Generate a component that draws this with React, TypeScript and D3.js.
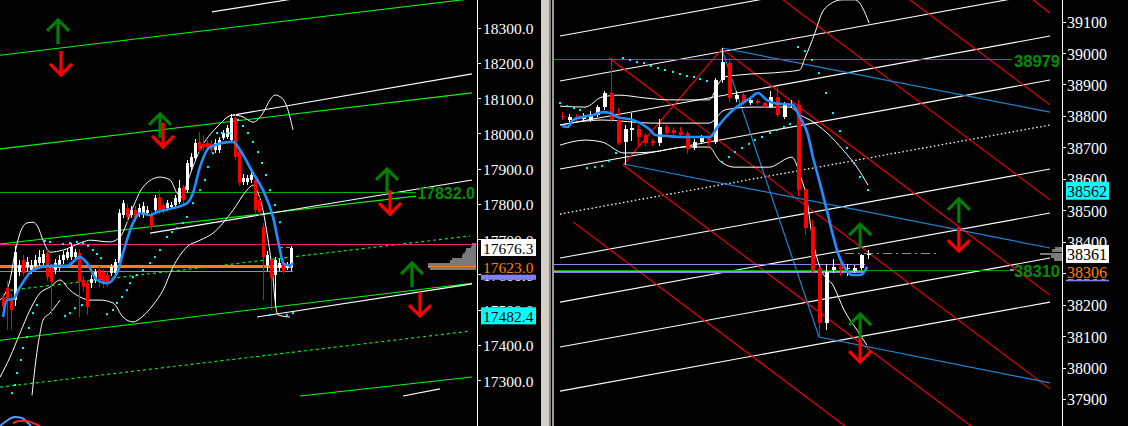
import React from 'react';
import * as d3 from 'd3';

type Pt = [number, number];
type Bar = [number, number, number, number]; // open, high, low, close

// ---------- left chart: candle index, price ----------
const leftCandles: Bar[] = [
  [17535, 17545, 17480, 17507], [17560, 17580, 17442, 17532], [17532, 17545, 17442, 17499],
  [17527, 17680, 17510, 17663], [17606, 17640, 17595, 17626], [17641, 17655, 17595, 17604],
  [17620, 17650, 17610, 17636], [17612, 17640, 17600, 17626], [17624, 17655, 17615, 17641],
  [17633, 17670, 17625, 17650], [17633, 17668, 17625, 17658], [17660, 17668, 17580, 17592],
  [17618, 17630, 17485, 17578], [17612, 17645, 17600, 17632], [17620, 17655, 17610, 17641],
  [17641, 17665, 17630, 17655], [17647, 17675, 17640, 17663], [17650, 17690, 17640, 17678],
  [17650, 17672, 17640, 17663], [17660, 17672, 17480, 17578], [17584, 17595, 17550, 17564],
  [17575, 17585, 17485, 17507], [17575, 17598, 17560, 17587], [17584, 17615, 17575, 17606],
  [17612, 17625, 17565, 17584], [17606, 17615, 17560, 17575], [17598, 17610, 17565, 17575],
  [17604, 17630, 17595, 17620], [17604, 17645, 17595, 17636], [17633, 17785, 17625, 17775],
  [17768, 17812, 17760, 17802], [17788, 17800, 17750, 17762], [17768, 17795, 17760, 17783],
  [17783, 17795, 17750, 17762], [17771, 17800, 17762, 17788], [17768, 17805, 17760, 17794],
  [17775, 17795, 17765, 17783], [17768, 17780, 17725, 17734], [17783, 17825, 17775, 17816],
  [17819, 17840, 17770, 17783], [17797, 17805, 17770, 17783], [17788, 17810, 17780, 17802],
  [17791, 17805, 17785, 17797], [17797, 17825, 17790, 17816], [17805, 17868, 17800, 17845],
  [17847, 17855, 17800, 17811], [17839, 17925, 17830, 17916], [17904, 17945, 17895, 17933],
  [17930, 17985, 17925, 17973], [17976, 18005, 17945, 17953], [17970, 17995, 17950, 17962],
  [17973, 17980, 17950, 17959], [17970, 17980, 17945, 17953], [17953, 17985, 17945, 17973],
  [17953, 17990, 17945, 17981], [17987, 18010, 17980, 18001], [17990, 18025, 17985, 18015],
  [17981, 18055, 17975, 18044], [18044, 18055, 17925, 17933], [17947, 17955, 17850, 17859],
  [17862, 17885, 17855, 17874], [17862, 17882, 17855, 17874], [17868, 17890, 17860, 17882],
  [17868, 17880, 17775, 17783], [17811, 17820, 17765, 17777], [17734, 17745, 17527, 17649],
  [17626, 17665, 17610, 17655], [17641, 17650, 17500, 17590], [17598, 17650, 17510, 17641],
  [17618, 17645, 17610, 17632], [17636, 17645, 17600, 17607], [17618, 17635, 17612, 17626],
  [17620, 17680, 17610, 17676],
];

const leftMa: Pt[] = [
  [0, 17479], [1, 17527], [2.5, 17530], [4.25, 17564], [7.5, 17612], [11.75, 17624], [16, 17624],
  [19.25, 17649], [21, 17632], [23.5, 17584], [26, 17575], [28.5, 17604], [30, 17660], [32.5, 17746],
  [34.25, 17774], [36.75, 17768], [38.5, 17777], [42.5, 17788], [46, 17802], [47.5, 17831],
  [49.25, 17905], [51.75, 17961], [57.5, 17976], [59.25, 17953], [62.5, 17888], [65, 17839],
  [67.5, 17763], [69.25, 17669], [70, 17632], [71.75, 17624], [72.5, 17632],
];

const leftUpperBand: Pt[] = [
  [-0.75, 17527], [1.75, 17584], [3, 17661], [4.25, 17717], [6, 17746], [7.5, 17748], [8.75, 17734],
  [10, 17697], [11.75, 17663], [15, 17669], [20, 17692], [21.75, 17697], [26.75, 17692], [29.25, 17706],
  [32.5, 17791], [35, 17848], [39.25, 17876], [41.75, 17868], [43.5, 17831], [44.75, 17819], [46, 17859],
  [49.25, 17953], [53.5, 18018], [57.5, 18052], [60, 18047], [62.5, 18032], [65, 18058], [66.75, 18095],
  [68, 18109], [69.75, 18100], [71, 18075], [72.5, 18010],
];

const leftLowerBand: Pt[] = [
  [-0.75, 17308], [1.75, 17365], [4.25, 17433], [6.75, 17499], [9.25, 17547], [11.75, 17564],
  [14.25, 17584], [16.75, 17555], [19.25, 17536], [21.75, 17527], [24.25, 17527], [27.5, 17519],
  [30, 17479], [32.5, 17465], [35, 17482], [37.5, 17513], [40, 17555], [42.5, 17621], [46, 17678],
  [49.25, 17697], [52.5, 17717], [57.5, 17782], [61, 17839], [62.5, 17853], [63.75, 17831], [65, 17782],
  [66, 17717], [66.75, 17661], [67.5, 17592], [68, 17527], [68.75, 17485], [71.75, 17479],
];

const leftOuterBand: Pt[] = [
  [7.25, 17257], [8, 17337], [9.25, 17433], [10, 17470], [11.75, 17490], [14.25, 17527],
];

const leftSar: Pt[] = [
  [2.25, 17263], [3, 17286], [3.5, 17320], [4.5, 17357], [5, 17391], [6, 17422], [6.5, 17448],
  [7.5, 17490], [8.5, 17513],
  [10.5, 17695], [11.75, 17692], [15, 17686], [16.75, 17689], [18.5, 17692], [20, 17689],
  [21.25, 17681], [22.5, 17669], [23.5, 17658], [24.5, 17646],
  [15.5, 17482], [16.75, 17490], [18, 17504], [19.75, 17513], [26, 17487], [27.5, 17499],
  [28.5, 17519], [29.75, 17536], [31, 17555], [31.75, 17575], [32.5, 17592], [33.5, 17598],
  [35, 17612], [36.75, 17632], [38, 17649], [39.25, 17669], [41, 17706], [42.25, 17720],
  [43.5, 17731], [45, 17746], [46, 17763], [47.5, 17802], [49.25, 17839], [50.5, 17868],
  [51.25, 17905], [52.5, 17944], [53.5, 18001], [54.75, 18001], [56, 18001], [56.75, 18001],
  [58.75, 18038], [60, 18021], [61.25, 18001], [62.5, 17976], [63.75, 17947], [64.75, 17916],
  [65.75, 17882], [66.75, 17839], [68, 17797], [69.25, 17748],
  [66.75, 17485], [71, 17485], [72.5, 17490],
];

const leftGreenLines: Pt[][] = [
  [[-0.75, 18222], [118.5, 18384]],
  [[-0.75, 17956], [117.25, 18115]],
  [[-0.75, 17686], [103.25, 17822]],
  [[-0.75, 17413], [117.25, 17575]],
  [[74.25, 17255], [117.25, 17309]],
];
const leftGreenDashed: Pt[][] = [
  [[1.75, 17555], [116.75, 17709]],
  [[-0.75, 17280], [116.75, 17439]],
];
const leftWhiteLines: Pt[][] = [
  [[52.25, 18345], [80, 18395]],
  [[57.5, 18052], [117.25, 18169]],
  [[36.75, 17717], [117.25, 17868]],
  [[63.5, 17479], [117.25, 17573]],
  [[100, 17255], [109.25, 17275]],
];

const leftTicks = [18300, 18200, 18100, 18000, 17900, 17800, 17700, 17600, 17500, 17400, 17300];
const leftSignal = 17832;
const leftPink = 17686;
const leftOrange = 17623;
const leftLavender = 17609;
const leftBid = 17676.3;
const leftSarLast = 17482.4;
const leftArrows: [number, number, string][] = [
  [13.75, 18325, 'up'], [14.5, 18163, 'down'], [39.25, 18058, 'up'], [40, 17959, 'down'],
  [96, 17902, 'up'], [96.75, 17768, 'down'], [102.25, 17635, 'up'], [104.25, 17479, 'down'],
];
const leftProfile: Pt[] = [
  [17685, 8], [17678, 10], [17671, 20], [17664, 22], [17657, 28], [17650, 30],
  [17643, 50], [17636, 55], [17629, 100], [17622, 100], [17615, 95],
];
const oscBlue: Pt[] = [[-0.75, 0], [0.5, 25], [3, 56], [4.75, 50], [6, 25], [7, 0]];
const oscRed: Pt[] = [[2.5, 19], [4.25, 31], [6, 31], [7.5, 19], [9.25, 0]];

// ---------- right chart: candle index, price ----------
const rightCandles: Bar[] = [
  [38800, 38812, 38787, 38797], [38787, 38805, 38780, 38797], [38797, 38805, 38785, 38790],
  [38790, 38810, 38785, 38800], [38787, 38815, 38780, 38806], [38803, 38835, 38798, 38828],
  [38828, 38880, 38820, 38873], [38873, 38984, 38780, 38787], [38787, 38825, 38707, 38714],
  [38717, 38770, 38644, 38758], [38755, 38810, 38720, 38760], [38758, 38770, 38705, 38733],
  [38739, 38745, 38705, 38714], [38720, 38725, 38705, 38714], [38714, 38790, 38705, 38765],
  [38765, 38772, 38740, 38746], [38755, 38765, 38738, 38746], [38749, 38765, 38732, 38740],
  [38746, 38752, 38680, 38695], [38697, 38725, 38690, 38717], [38717, 38740, 38710, 38733],
  [38730, 38740, 38700, 38717], [38717, 38920, 38710, 38914], [38914, 39016, 38905, 38971],
  [38968, 38985, 38845, 38857], [38853, 38880, 38845, 38866], [38866, 38875, 38835, 38841],
  [38841, 38860, 38835, 38850], [38847, 38855, 38835, 38841], [38841, 38845, 38825, 38831],
  [38828, 38880, 38825, 38860], [38860, 38892, 38795, 38803], [38797, 38845, 38790, 38835],
  [38835, 38850, 38825, 38838], [38835, 38850, 38545, 38565], [38568, 38570, 38420, 38444],
  [38447, 38470, 38300, 38310], [38316, 38320, 38097, 38141], [38141, 38330, 38120, 38304],
  [38310, 38345, 38300, 38320], [38320, 38335, 38290, 38313], [38313, 38330, 38290, 38316],
  [38306, 38325, 38300, 38316], [38316, 38362, 38310, 38357], [38357, 38375, 38345, 38361],
];

const rightMa: Pt[] = [
  [0, 38768], [0.86, 38765], [1.58, 38787], [3.02, 38797], [4.46, 38803], [5.9, 38812], [6.9, 38809],
  [7.9, 38797], [10.2, 38787], [11.7, 38771], [12.7, 38755], [13.4, 38739], [15.1, 38736], [17.4, 38733],
  [20.3, 38733], [21.3, 38733], [22.3, 38762], [23.2, 38787], [24.6, 38819], [26, 38841], [27.1, 38857],
  [28.2, 38873], [29.5, 38850], [30.4, 38841], [31.8, 38838], [33.2, 38835], [34.2, 38797],
  [35.3, 38746], [36.1, 38670], [37.1, 38587], [38.1, 38501], [38.9, 38428], [39.9, 38352],
  [40.9, 38310], [41.7, 38294], [43, 38294], [43.9, 38320],
];

const rightUpperBand: Pt[] = [
  [-0.29, 38831], [3.31, 38828], [5.76, 38860], [8.2, 38866], [11.94, 38857], [15.4, 38851],
  [21.15, 38851], [22.6, 38905], [23.45, 38924], [25.47, 38930], [32.1, 38940], [34.2, 38946],
  [34.96, 38984], [36.4, 39064], [37.4, 39127], [38.4, 39153], [40.3, 39169], [42.2, 39169], [44.2, 39095],
];
const rightMidBand: Pt[] = [
  [-0.29, 38771], [5.76, 38787], [12.95, 38777], [21.15, 38777], [23.45, 38819], [27.34, 38828],
  [32.81, 38828], [34.24, 38803], [35.68, 38787], [38.13, 38746], [40.43, 38692], [42.45, 38637],
  [44.03, 38580],
];
const rightLowerBand: Pt[] = [
  [-0.29, 38707], [3.31, 38723], [5.76, 38717], [8.92, 38682], [12.95, 38685], [17.7, 38701],
  [21.15, 38701], [22.59, 38660], [24.89, 38637], [29.78, 38637], [33.09, 38669], [34.24, 38612],
  [35.25, 38533], [35.97, 38421], [37.12, 38319], [39.14, 38256], [40.58, 38183], [42.45, 38119],
  [43.88, 38071],
];

const rightSar: Pt[] = [
  [-0.29, 38841], [0.72, 38831], [1.73, 38825], [2.59, 38819],
  [3.6, 38634], [4.75, 38637], [5.76, 38641], [6.76, 38657], [7.77, 38682],
  [8.78, 38984], [9.78, 38978], [10.79, 38971], [11.8, 38968], [12.81, 38959], [13.81, 38952],
  [14.82, 38946], [15.97, 38940], [16.98, 38933], [17.99, 38927], [18.99, 38924], [19.86, 38917],
  [20.86, 38911],
  [23.02, 38653], [24.03, 38669], [24.89, 38685], [25.9, 38698], [26.91, 38711], [27.77, 38723],
  [28.78, 38733], [29.93, 38746], [30.94, 38755], [31.94, 38765], [32.81, 38774],
  [33.96, 39019], [34.96, 39006], [35.97, 38978], [36.98, 38936], [37.99, 38873], [38.99, 38809],
  [40, 38752], [41.01, 38698], [42.01, 38650], [42.88, 38606], [44.03, 38564],
];

// parallel channel: start level at first index, same rise to the last index
const rightChannelLevels = [39054, 38911, 38771, 38631, 38488, 38348, 38208, 38065, 37925];
const rightChannelDotted = 38488;
const rightChannelSpan: Pt = [-0.29, 70.22];
const rightChannelRise = 283;

const rightRedLines: Pt[][] = [
  [[1.58, 38463], [40.7, 37814]],
  [[8.78, 38644], [58.85, 37814]],
  [[6.76, 38984], [70.22, 37932]],
  [[23.0, 39013], [70.22, 38230]],
  [[31.8, 39169], [70.22, 38533]],
  [[50.07, 39169], [70.22, 38835]],
  [[67.77, 39169], [70.22, 39127]],
  [[8.78, 38644], [23.0, 39013]],
];
const rightBlueLines: Pt[][] = [
  [[23.0, 39016], [70.22, 38812]],
  [[8.92, 38647], [70.22, 38380]],
  [[23.0, 39013], [36.98, 38097], [70.22, 37951]],
];

const rightTicks = [39100, 39000, 38900, 38800, 38700, 38600, 38500, 38400, 38300, 38200, 38100, 38000, 37900];
const rightSignalHigh = 38979;
const rightSignalLow = 38310;
const rightLavender: number[] = [38328, 38303];
const rightOrange = 38306;
const rightBid = 38361;
const rightSarLast = 38562;
const rightArrows: [number, number, string][] = [
  [42.9, 38459, 'up'], [42.9, 38173, 'up'], [42.9, 38014, 'down'], [57.1, 38539, 'up'], [57.1, 38367, 'down'],
];
const rightProfile: Pt[] = [[38380, 30], [38371, 45], [38361, 100], [38352, 50], [38343, 35]];

const AXIS_FONT = '"Liberation Serif", "Times New Roman", serif';
const LABEL_FONT = '"Liberation Sans", Arial, sans-serif';

function Candles({ data, x, y, w }) {
  return (
    <g>
      {data.map(([o, h, l, c], i) => {
        const col = c >= o ? '#ffffff' : '#ff0000';
        const top = y(Math.max(o, c));
        const bot = y(Math.min(o, c));
        const cx = Math.round(x(i)) + 0.5;
        return (
          <g key={i}>
            <line x1={cx} x2={cx} y1={y(h)} y2={y(l)} stroke={col} strokeWidth={1} shapeRendering="crispEdges" />
            <rect x={cx - w / 2} y={top} width={w} height={Math.max(1, bot - top)} fill={col} shapeRendering="crispEdges" />
          </g>
        );
      })}
    </g>
  );
}

function Arrow({ x, y, dir }) {
  const col = dir === 'up' ? '#008000' : '#ff0000';
  const s = dir === 'up' ? 1 : -1;
  const d = `M${x},${y + s} L${x},${y + 25 * s} M${x - 11},${y + 12 * s} L${x},${y + s} L${x + 11},${y + 12 * s}`;
  return <path d={d} stroke={col} strokeWidth={3.2} fill="none" />;
}

export default function App() {
  const xL = d3.scaleLinear().domain([0, 118.5]).range([3, 477]);
  const yL = d3.scaleLinear().domain([17300, 18300]).range([380.1, 27.7]);
  const xR = d3.scaleLinear().domain([0, 70.22]).range([562, 1050]);
  const yR = d3.scaleLinear().domain([37900, 39000]).range([398.95, 53]);
  const yOsc = d3.scaleLinear().domain([0, 100]).range([426, 410]);
  const volL = d3.scaleLinear().domain([0, 100]).range([0, 48]);
  const volR = d3.scaleLinear().domain([0, 100]).range([0, 22]);

  const lineL = d3.line<Pt>().x(d => xL(d[0])).y(d => yL(d[1]));
  const lineR = d3.line<Pt>().x(d => xR(d[0])).y(d => yR(d[1]));
  const curveL = d3.line<Pt>().x(d => xL(d[0])).y(d => yL(d[1])).curve(d3.curveMonotoneX);
  const curveR = d3.line<Pt>().x(d => xR(d[0])).y(d => yR(d[1])).curve(d3.curveMonotoneX);
  const oscLine = d3.line<Pt>().x(d => xL(d[0])).y(d => yOsc(d[1])).curve(d3.curveMonotoneX);

  const lx0 = xL(-0.75);
  const rx0 = xR(-1.29);

  return (
    <svg width={1128} height={426} style={{ position: 'absolute', left: 0, top: 0, display: 'block' }}>
      <defs>
        <clipPath id="clipL"><rect x={0} y={0} width={477} height={426} /></clipPath>
        <clipPath id="clipR"><rect x={554} y={0} width={508} height={426} /></clipPath>
      </defs>
      <rect x={0} y={0} width={1128} height={426} fill="#000" />

      {/* ---------------- left panel ---------------- */}
      <g clipPath="url(#clipL)">
        {leftGreenLines.map((l, i) => (
          <path key={'lg' + i} d={lineL(l)} stroke="#00ff00" strokeWidth={1.1} fill="none" />
        ))}
        {leftGreenDashed.map((l, i) => (
          <path key={'ld' + i} d={lineL(l)} stroke="#00ff00" strokeWidth={1.1} strokeDasharray="3,3" fill="none" />
        ))}
        {leftWhiteLines.map((l, i) => (
          <path key={'lw' + i} d={lineL(l)} stroke="#ffffff" strokeWidth={1.1} fill="none" />
        ))}
        <line x1={lx0} x2={xL(103.25)} y1={yL(leftSignal)} y2={yL(leftSignal)} stroke="#00b000" shapeRendering="crispEdges" />
        <line x1={lx0} x2={477} y1={yL(leftPink)} y2={yL(leftPink)} stroke="#ff1a8c" shapeRendering="crispEdges" />
        <line x1={lx0} x2={xL(72.5)} y1={yL(leftOrange)} y2={yL(leftOrange)} stroke="#ff8000" strokeWidth={3} shapeRendering="crispEdges" />
        <line x1={lx0} x2={xL(72.5)} y1={yL(leftLavender)} y2={yL(leftLavender)} stroke="#9080ff" shapeRendering="crispEdges" />
        <line x1={xL(69)} x2={xL(72.5)} y1={yL(leftBid)} y2={yL(leftBid)} stroke="#909090" strokeDasharray="4,3" shapeRendering="crispEdges" />

        {leftProfile.map(([p, v], i) => (
          <rect key={'lp' + i} x={476 - volL(v)} y={yL(p) - 1.3} width={volL(v)} height={2.6} fill="#7a7a7a" shapeRendering="crispEdges" />
        ))}
        <line x1={476 - volL(100)} x2={476} y1={yL(leftOrange)} y2={yL(leftOrange)} stroke="#ff8000" strokeWidth={1.5} shapeRendering="crispEdges" />

        <path d={curveL(leftUpperBand)} stroke="#fff" strokeWidth={1} fill="none" />
        <path d={curveL(leftLowerBand)} stroke="#fff" strokeWidth={1} fill="none" />
        <path d={curveL(leftOuterBand)} stroke="#fff" strokeWidth={1} fill="none" />

        <Candles data={leftCandles} x={xL} y={yL} w={3} />
        <path d={curveL(leftMa)} stroke="#1e90ff" strokeWidth={2.6} fill="none" />
        {leftSar.map(([i, p], k) => (
          <rect key={'ls' + k} x={xL(i) - 1} y={yL(p) - 1} width={2} height={2} fill="#00ffff" />
        ))}
        <path d={oscLine(oscBlue)} stroke="#4aa0ff" strokeWidth={2} fill="none" />
        <path d={oscLine(oscRed)} stroke="#ff2020" strokeWidth={2} fill="none" />
        {leftArrows.map(([i, p, dir], k) => (
          <Arrow key={'la' + k} x={xL(i)} y={yL(p)} dir={dir} />
        ))}
        <text x={475} y={yL(leftSignal) + 1} textAnchor="end" dominantBaseline="central" fontFamily={LABEL_FONT}
          fontWeight="bold" fontSize={16} fill="#008f00">{leftSignal.toFixed(1)}</text>
      </g>

      {/* left price axis */}
      <line x1={477.5} x2={477.5} y1={0} y2={426} stroke="#fff" />
      {leftTicks.map(t => (
        <g key={'lt' + t}>
          <line x1={477} x2={481} y1={Math.round(yL(t)) + 0.5} y2={Math.round(yL(t)) + 0.5} stroke="#fff" />
          <text x={483} y={yL(t) + 1} dominantBaseline="central" fontFamily={AXIS_FONT} fontSize={15.5} fill="#fff">
            {t.toFixed(1)}
          </text>
        </g>
      ))}
      <rect x={481} y={yL(leftBid) - 8.5} width={55} height={17} fill="#fff" />
      <text x={483} y={yL(leftBid) + 1} dominantBaseline="central" fontFamily={AXIS_FONT} fontSize={15.5} fill="#000">
        {leftBid.toFixed(1)}
      </text>
      <rect x={481} y={yL(leftOrange) - 8} width={55} height={16.5} fill="#000" />
      <text x={483} y={yL(leftOrange) + 1} dominantBaseline="central" fontFamily={AXIS_FONT} fontSize={15.5} fill="#ff8000">
        {leftOrange.toFixed(1)}
      </text>
      <rect x={481} y={yL(leftOrange) + 8.5} width={55} height={5} fill="#8080ff" />
      <rect x={481} y={yL(leftSarLast) - 8.5} width={55} height={17} fill="#00ffff" />
      <text x={483} y={yL(leftSarLast) + 1} dominantBaseline="central" fontFamily={AXIS_FONT} fontSize={15.5} fill="#000">
        {leftSarLast.toFixed(1)}
      </text>

      {/* separator */}
      <rect x={541} y={0} width={8} height={426} fill="#d4d0c8" />
      <rect x={549} y={0} width={2} height={426} fill="#808080" />
      <rect x={552} y={0} width={2} height={426} fill="#9a9a9a" />

      {/* ---------------- right panel ---------------- */}
      <g clipPath="url(#clipR)">
        {rightChannelLevels.map((lv, i) => (
          <path key={'rc' + i}
            d={lineR([[rightChannelSpan[0], lv], [rightChannelSpan[1], lv + rightChannelRise]])}
            stroke="#fff" strokeWidth={lv === rightChannelDotted ? 1.3 : 1.1}
            strokeDasharray={lv === rightChannelDotted ? '1.5,2.5' : undefined}
            fill="none" />
        ))}
        {rightRedLines.map((l, i) => (
          <path key={'rr' + i} d={lineR(l)} stroke="#ff0000" strokeWidth={1.1} fill="none" />
        ))}
        {rightBlueLines.map((l, i) => (
          <path key={'rb' + i} d={lineR(l)} stroke="#1a86d6" strokeWidth={1.2} fill="none" />
        ))}
        <line x1={rx0} x2={xR(64.75)} y1={yR(rightSignalHigh)} y2={yR(rightSignalHigh)} stroke="#00a000" shapeRendering="crispEdges" />
        <line x1={rx0} x2={xR(43.6)} y1={yR(rightLavender[0])} y2={yR(rightLavender[0])} stroke="#8c80ff" shapeRendering="crispEdges" />
        <line x1={rx0} x2={xR(43.6)} y1={yR(rightLavender[1])} y2={yR(rightLavender[1])} stroke="#8c80ff" shapeRendering="crispEdges" />
        <line x1={rx0} x2={xR(43.6)} y1={yR(rightOrange)} y2={yR(rightOrange)} stroke="#d8a000" shapeRendering="crispEdges" />
        <line x1={rx0} x2={xR(64.4)} y1={yR(rightSignalLow)} y2={yR(rightSignalLow)} stroke="#00a000" shapeRendering="crispEdges" />
        <line x1={xR(40.7)} x2={xR(54.3)} y1={yR(rightBid)} y2={yR(rightBid)} stroke="#909090" strokeDasharray="9,4,2,4" shapeRendering="crispEdges" />

        {rightProfile.map(([p, v], i) => (
          <rect key={'rp' + i} x={1062 - volR(v)} y={yR(p) - 1.4} width={volR(v)} height={2.8} fill="#7a7a7a" shapeRendering="crispEdges" />
        ))}

        <path d={curveR(rightUpperBand)} stroke="#fff" strokeWidth={1} fill="none" />
        <path d={curveR(rightMidBand)} stroke="#fff" strokeWidth={1} fill="none" />
        <path d={curveR(rightLowerBand)} stroke="#fff" strokeWidth={1} fill="none" />

        <Candles data={rightCandles} x={xR} y={yR} w={4} />
        <path d={curveR(rightMa)} stroke="#1e90ff" strokeWidth={2.6} fill="none" />
        {rightSar.map(([i, p], k) => (
          <rect key={'rs' + k} x={xR(i) - 1} y={yR(p) - 1} width={2} height={2} fill="#00ffff" />
        ))}
        {rightArrows.map(([i, p, dir], k) => (
          <Arrow key={'ra' + k} x={xR(i)} y={yR(p)} dir={dir} />
        ))}
        <text x={1060} y={yR(rightSignalHigh) + 1} textAnchor="end" dominantBaseline="central" fontFamily={LABEL_FONT}
          fontWeight="bold" fontSize={16.5} fill="#008f00">{rightSignalHigh}</text>
        <rect x={1010} y={yR(rightSignalLow) - 1} width={4} height={2} fill="#909090" />
        <text x={1060} y={yR(rightSignalLow) + 1} textAnchor="end" dominantBaseline="central" fontFamily={LABEL_FONT}
          fontWeight="bold" fontSize={16.5} fill="#008f00">{rightSignalLow}</text>
      </g>

      {/* right price axis */}
      <line x1={1062.5} x2={1062.5} y1={0} y2={426} stroke="#fff" />
      {rightTicks.map(t => (
        <g key={'rt' + t}>
          <line x1={1062} x2={1066} y1={Math.round(yR(t)) + 0.5} y2={Math.round(yR(t)) + 0.5} stroke="#fff" />
          <text x={1067} y={yR(t) + 1} dominantBaseline="central" fontFamily={AXIS_FONT} fontSize={16} fill="#fff">
            {t}
          </text>
        </g>
      ))}
      <rect x={1066} y={yR(rightSarLast) - 9} width={43} height={18} fill="#00ffff" />
      <text x={1067} y={yR(rightSarLast) + 1} dominantBaseline="central" fontFamily={AXIS_FONT} fontSize={16} fill="#000">
        {rightSarLast}
      </text>
      <rect x={1066} y={yR(rightBid) - 9} width={43} height={18} fill="#fff" />
      <text x={1067} y={yR(rightBid) + 1} dominantBaseline="central" fontFamily={AXIS_FONT} fontSize={16} fill="#000">
        {rightBid}
      </text>
      <rect x={1066} y={yR(rightOrange) - 8} width={43} height={16} fill="#000" />
      <text x={1067} y={yR(rightOrange) + 1} dominantBaseline="central" fontFamily={AXIS_FONT} fontSize={16} fill="#ff8000">
        {rightOrange}
      </text>
      <rect x={1066} y={yR(rightOrange) + 8.5} width={43} height={1.5} fill="#8080ff" />
    </svg>
  );
}
